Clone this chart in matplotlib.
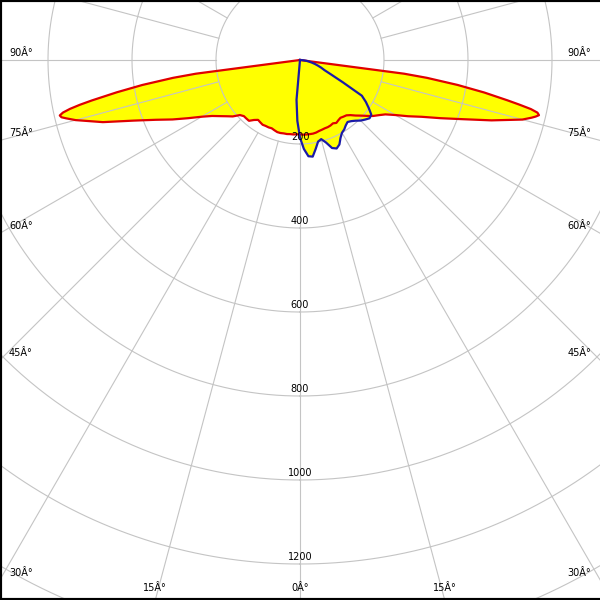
import numpy as np
import matplotlib
matplotlib.use("Agg")
import matplotlib.pyplot as plt
from matplotlib.lines import Line2D

# luminous intensity curves, gamma in degrees from nadir (negative = left), values in cd
gamma_red = [-90, -85, -82.5, -82, -81, -80, -79, -78.5, -78, -77.5, -77, -76.5, -76, -75,
             -72.5, -70, -67.5, -65, -62.5, -60,
             -57.5, -55, -52.5, -50, -47.5, -45, -42.5, -40, -37.5, -35, -32.5, -30, -27.5,
             -25, -22.5, -20, -17.5, -15, -12.5, -10, -7.5, -5, -2.5, 0, 2.5, 5, 7.5, 10,
             12.5, 15, 17.5, 20, 22.5, 25, 27.5, 30, 32.5, 35, 37.5, 40, 42.5, 45, 47.5, 50,
             52.5, 55, 57.5, 60, 62.5, 65, 67.5, 70, 72.5, 75, 76, 76.5, 77, 77.5, 78, 78.5,
             79, 80, 81, 82, 82.5, 85, 90]
cd_red = [0, 0, 250, 305, 380, 443, 505, 535, 560, 578, 587, 584, 574, 553,
          492, 422, 372, 335, 300, 270,
          248, 233, 220, 209, 194, 189, 189, 189, 180, 174, 176, 178, 177,
          177, 176, 178, 180, 180, 179, 179, 178, 178, 177, 177, 178, 178, 178, 178,
          177, 175, 174, 173, 173, 172, 170, 173, 170, 168, 170, 172, 178, 187, 196, 207,
          219, 229, 241, 262, 290, 320, 362, 412, 478, 548, 568, 577, 584, 579, 562, 533,
          503, 445, 380, 305, 250, 0, 0]

gamma_blue = [-90, -7.5, -5, -2.5, 0, 2.5, 5, 7.5, 10, 12.5, 15, 17.5, 20, 22.5, 25, 27.5,
              30, 32.5, 35, 37.5, 40, 42.5, 45, 47.5, 50, 52.5, 55, 57.5, 60, 62.5, 65,
              67.5, 70, 72.5, 75, 77.5, 80, 82.5, 85, 87.5, 90]
cd_blue = [0, 0, 95, 145, 185, 212, 230, 232, 215, 199, 195, 206, 223, 228, 222, 209,
           200, 196, 190, 186, 190, 196, 204, 210, 216, 214, 200, 186, 170, 115, 82,
           63, 54, 45, 37, 29, 22, 16, 9, 3, 0]

ring_values = [200, 400, 600, 800, 1000, 1200, 1400]
ring_labels = ["200", "400", "600", "800", "1000", "1200"]
side_angles = [90, 75, 60, 45, 30]
bottom_angles = [-15, 0, 15]

assert len(gamma_red) == len(cd_red) and len(gamma_blue) == len(cd_blue)

W = 600
cx, cy = 300, 60          # pole position in pixels (from top-left)
px_per_cd = 0.42
r_max = 1500

fig = plt.figure(figsize=(6, 6), dpi=100)
R = r_max * px_per_cd
ax = fig.add_axes([(cx - R) / W, (W - cy - R) / W, 2 * R / W, 2 * R / W], projection="polar")
ax.set_theta_zero_location("S")
ax.set_ylim(0, r_max)
ax.set_xticks([])
ax.set_yticks([])
ax.grid(False)
ax.spines["polar"].set_visible(False)

grid_col = "#c4c4c4"
th_full = np.linspace(0, 2 * np.pi, 720)
for rv in ring_values:
    ax.plot(th_full, np.full_like(th_full, rv), color=grid_col, lw=0.8, zorder=2)
for k in range(24):
    t = np.deg2rad(k * 15)
    ax.plot([t, t], [200, r_max], color=grid_col, lw=0.8, zorder=2)

tr = np.deg2rad(gamma_red)
tb = np.deg2rad(gamma_blue)
ax.fill(tr, cd_red, color="#ffff00", lw=0, zorder=1)
ax.fill(tb, cd_blue, color="#ffff00", lw=0, zorder=1)
ax.plot(tr, cd_red, color="#e00000", lw=1.6, zorder=3)
ax.plot(tb, cd_blue, color="#1a1aa8", lw=1.6, zorder=4)

for rv, lab in zip(ring_values, ring_labels):
    ax.annotate(lab, xy=(0, rv), xytext=(0, 1.5), textcoords="offset points",
                ha="center", va="bottom", fontsize=7, color="black", zorder=6)

def px(x, y):
    return x / W, 1 - y / W

for a in side_angles:
    yy = cy + cx * np.cos(np.deg2rad(a)) / np.sin(np.deg2rad(a)) - 7
    fig.text(*px(9, yy), f"{a}Â°", ha="left", va="center", fontsize=7)
    fig.text(*px(591, yy), f"{a}Â°", ha="right", va="center", fontsize=7)
for a in bottom_angles:
    xx = cx + (W - cy) * np.tan(np.deg2rad(a))
    fig.text(*px(xx, 588), f"{abs(a)}Â°", ha="center", va="center", fontsize=7)

# frame on left, top and bottom
for xs, ys in [([0, 0], [0, 1]), ([0, 1], [1, 1]), ([0, 1], [0, 0])]:
    fig.add_artist(Line2D(xs, ys, transform=fig.transFigure, color="black", lw=3))

fig.savefig("out.png", dpi=100)
